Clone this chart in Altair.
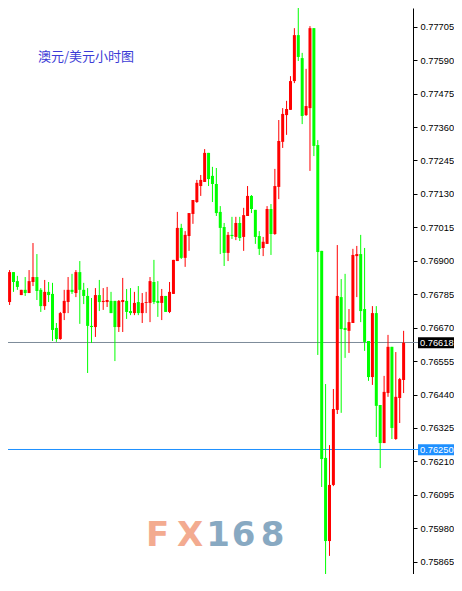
import altair as alt
import pandas as pd

# ---- data (AUD/USD hourly candles) ----
opens = [0.76741, 0.76758, 0.76861, 0.76830, 0.76782, 0.76800, 0.76789, 0.76827, 0.76844, 0.76800,
         0.76744, 0.76793, 0.76786, 0.76669, 0.76631, 0.76720, 0.76758, 0.76800, 0.76789, 0.76861,
         0.76800, 0.76779, 0.76676, 0.76672, 0.76782, 0.76758, 0.76758, 0.76762, 0.76762, 0.76672,
         0.76758, 0.76762, 0.76727, 0.76720, 0.76758, 0.76720, 0.76755, 0.76755, 0.76827, 0.76762,
         0.76755, 0.76779, 0.76724, 0.76786, 0.76899, 0.77013, 0.76910, 0.76985, 0.77061, 0.77102,
         0.77157, 0.77171, 0.77271, 0.77192, 0.77164, 0.77068, 0.77016, 0.76927, 0.76989, 0.76982,
         0.77030, 0.76982, 0.77054, 0.77123, 0.77075, 0.76985, 0.76944, 0.76958, 0.77078, 0.76992,
         0.77154, 0.77309, 0.77401, 0.77419, 0.77518, 0.77676, 0.77597, 0.77401, 0.77425, 0.77700,
         0.77298, 0.76934, 0.76222, 0.75936, 0.76129, 0.76387, 0.76775, 0.76669, 0.76659, 0.76686,
         0.76916, 0.76923, 0.76734, 0.76624, 0.76500, 0.76720, 0.76404, 0.76273, 0.76445, 0.76604,
         0.76287, 0.76428, 0.76490]
highs = [0.76817, 0.76868, 0.76861, 0.76848, 0.76800, 0.76844, 0.76868, 0.76961, 0.76923, 0.76806,
         0.76834, 0.76827, 0.76824, 0.76686, 0.76724, 0.76800, 0.76844, 0.76855, 0.76868, 0.76899,
         0.76824, 0.76806, 0.76772, 0.76806, 0.76834, 0.76806, 0.76810, 0.76793, 0.76762, 0.76765,
         0.76841, 0.76803, 0.76806, 0.76793, 0.76813, 0.76789, 0.76793, 0.76844, 0.76903, 0.76830,
         0.76803, 0.76779, 0.76827, 0.76903, 0.77068, 0.77027, 0.77002, 0.77064, 0.77109, 0.77178,
         0.77195, 0.77284, 0.77271, 0.77223, 0.77219, 0.77088, 0.77030, 0.76999, 0.77051, 0.77051,
         0.77051, 0.77082, 0.77157, 0.77126, 0.77075, 0.77002, 0.76982, 0.77088, 0.77095, 0.77216,
         0.77384, 0.77425, 0.77450, 0.77535, 0.77700, 0.77773, 0.77615, 0.77560, 0.77707, 0.77700,
         0.77315, 0.76934, 0.76476, 0.76266, 0.76459, 0.76954, 0.76837, 0.76855, 0.76734, 0.76941,
         0.76951, 0.76989, 0.76944, 0.76624, 0.76744, 0.76744, 0.76404, 0.76504, 0.76645, 0.76604,
         0.76586, 0.76497, 0.76659]
lows = [0.76741, 0.76748, 0.76793, 0.76800, 0.76782, 0.76779, 0.76789, 0.76813, 0.76765, 0.76724,
        0.76731, 0.76758, 0.76624, 0.76621, 0.76628, 0.76696, 0.76720, 0.76786, 0.76775, 0.76683,
        0.76751, 0.76514, 0.76617, 0.76638, 0.76727, 0.76731, 0.76741, 0.76720, 0.76555, 0.76655,
        0.76655, 0.76700, 0.76713, 0.76713, 0.76713, 0.76686, 0.76720, 0.76689, 0.76751, 0.76707,
        0.76696, 0.76724, 0.76720, 0.76786, 0.76899, 0.76906, 0.76879, 0.76934, 0.77027, 0.77099,
        0.77123, 0.77171, 0.77157, 0.77102, 0.77054, 0.76923, 0.76882, 0.76899, 0.76975, 0.76971,
        0.76968, 0.76934, 0.77054, 0.77064, 0.76958, 0.76920, 0.76916, 0.76958, 0.76920, 0.76989,
        0.77112, 0.77288, 0.77333, 0.77419, 0.77511, 0.77587, 0.77370, 0.77398, 0.77209, 0.77260,
        0.76576, 0.76122, 0.75778, 0.75885, 0.76125, 0.76373, 0.76377, 0.76566, 0.76583, 0.76686,
        0.76775, 0.76689, 0.76590, 0.76487, 0.76473, 0.76294, 0.76187, 0.76273, 0.76432, 0.76287,
        0.76284, 0.76342, 0.76445]
closes = [0.76817, 0.76861, 0.76827, 0.76810, 0.76800, 0.76789, 0.76830, 0.76844, 0.76796, 0.76744,
          0.76793, 0.76782, 0.76662, 0.76631, 0.76720, 0.76762, 0.76800, 0.76793, 0.76861, 0.76800,
          0.76779, 0.76676, 0.76672, 0.76782, 0.76758, 0.76762, 0.76765, 0.76720, 0.76672, 0.76762,
          0.76765, 0.76724, 0.76720, 0.76755, 0.76720, 0.76755, 0.76758, 0.76830, 0.76758, 0.76755,
          0.76779, 0.76724, 0.76793, 0.76903, 0.77013, 0.76910, 0.76989, 0.77064, 0.77109, 0.77168,
          0.77178, 0.77271, 0.77181, 0.77164, 0.77064, 0.77013, 0.76927, 0.76989, 0.76985, 0.77030,
          0.76978, 0.77057, 0.77123, 0.77078, 0.76982, 0.76941, 0.76965, 0.77078, 0.76992, 0.77157,
          0.77312, 0.77405, 0.77422, 0.77518, 0.77676, 0.77601, 0.77398, 0.77432, 0.77700, 0.77295,
          0.76930, 0.76218, 0.75936, 0.76129, 0.76390, 0.76779, 0.76665, 0.76662, 0.76689, 0.76920,
          0.76923, 0.76727, 0.76621, 0.76500, 0.76720, 0.76401, 0.76273, 0.76449, 0.76604, 0.76325,
          0.76432, 0.76493, 0.76618]

tick_values = [0.77705, 0.77590, 0.77475, 0.77360, 0.77245, 0.77130, 0.77015, 0.76900, 0.76785,
               0.76670, 0.76555, 0.76440, 0.76325, 0.76210, 0.76095, 0.75980, 0.75865]

price_lines = [0.76618, 0.76250]
price_labels = ["0.76618", "0.76250"]
line_colors = ["#7d8b99", "#1e90ff"]
box_colors = ["#000000", "#1e90ff"]

title_text = "澳元/美元小时图"
logo_chars = ["F", "X", "1", "6", "8"]
logo_colors = ["#f3ab90", "#f3ab90", "#88a9c2", "#88a9c2", "#88a9c2"]
logo_x = [149.5, 182, 210, 235.5, 264.5]

# ---- layout ----
W, H = 405, 566
x_dom = [1.875, 103.125]
y_dom = [0.758227, 0.777693]

df = pd.DataFrame({"i": list(range(len(opens))), "open": opens, "high": highs,
                   "low": lows, "close": closes})
df["dir"] = ["up" if c >= o else "down" for o, c in zip(opens, closes)]

xs = alt.X("i:Q", scale=alt.Scale(domain=x_dom, nice=False, zero=False), axis=None)
ys_axis = alt.Axis(orient="right", values=tick_values, format=".5f", grid=False,
                   tickSize=4, tickColor="#000000", domainColor="#000000",
                   labelColor="#000000", labelFont="Liberation Sans", labelFontSize=9.3,
                   labelPadding=3, title=None, labelOverlap=False, labelBound=False)
yscale = alt.Scale(domain=y_dom, nice=False, zero=False)
col = alt.Color("dir:N", scale=alt.Scale(domain=["up", "down"], range=["#ff0000", "#00ff00"]),
                legend=None)

base = alt.Chart(df)

wicks = base.mark_rule(strokeWidth=1, clip=True).encode(
    x=xs, y=alt.Y("low:Q", scale=yscale, axis=ys_axis), y2="high:Q", color=col)
bodies = base.mark_bar(size=3, clip=True).encode(
    x=xs, y=alt.Y("open:Q", scale=yscale, axis=ys_axis), y2="close:Q", color=col)

layers = []
for p, lbl, lc, bc in zip(price_lines, price_labels, line_colors, box_colors):
    d = pd.DataFrame({"p": [p], "lbl": [lbl]})
    c = alt.Chart(d)
    yp = alt.Y("p:Q", scale=yscale, axis=ys_axis)
    layers.append(c.mark_rule(strokeWidth=1, color=lc, yOffset=-0.26).encode(
        y=yp, x=alt.value(0), x2=alt.value(410)))
    layers.append(c.mark_rule(strokeWidth=11, color=bc, strokeCap="butt").encode(
        y=yp, x=alt.value(410), x2=alt.value(446)))
    layers.append(c.mark_text(align="left", baseline="middle", color="#ffffff",
                              font="Liberation Sans", fontSize=9.3).encode(
        y=yp, x=alt.value(412), text="lbl:N"))

title_layer = alt.Chart(pd.DataFrame({"t": [title_text]})).mark_text(
    align="left", baseline="middle", font="Noto Sans CJK SC", fontSize=13,
    color="#3b3bd6").encode(x=alt.value(30), y=alt.value(49), text="t:N")

logo_layers = []
for ch, cc, lx in zip(logo_chars, logo_colors, logo_x):
    logo_layers.append(alt.Chart(pd.DataFrame({"t": [ch]})).mark_text(
        align="center", baseline="alphabetic", font="DejaVu Sans", fontWeight="bold",
        fontSize=34, color=cc).encode(x=alt.value(lx), y=alt.value(538), text="t:N"))

chart = alt.layer(*layers, wicks, bodies, title_layer, *logo_layers).properties(
    width=W, height=H, background="#ffffff",
    padding={"left": 0, "top": 0, "right": 41, "bottom": 0},
    autosize=alt.AutoSizeParams(type="none"),
).configure_view(stroke=None).configure_axisY(labelOverlap=False)

chart.save("out.html", embed_options={"renderer": "svg", "actions": False})
